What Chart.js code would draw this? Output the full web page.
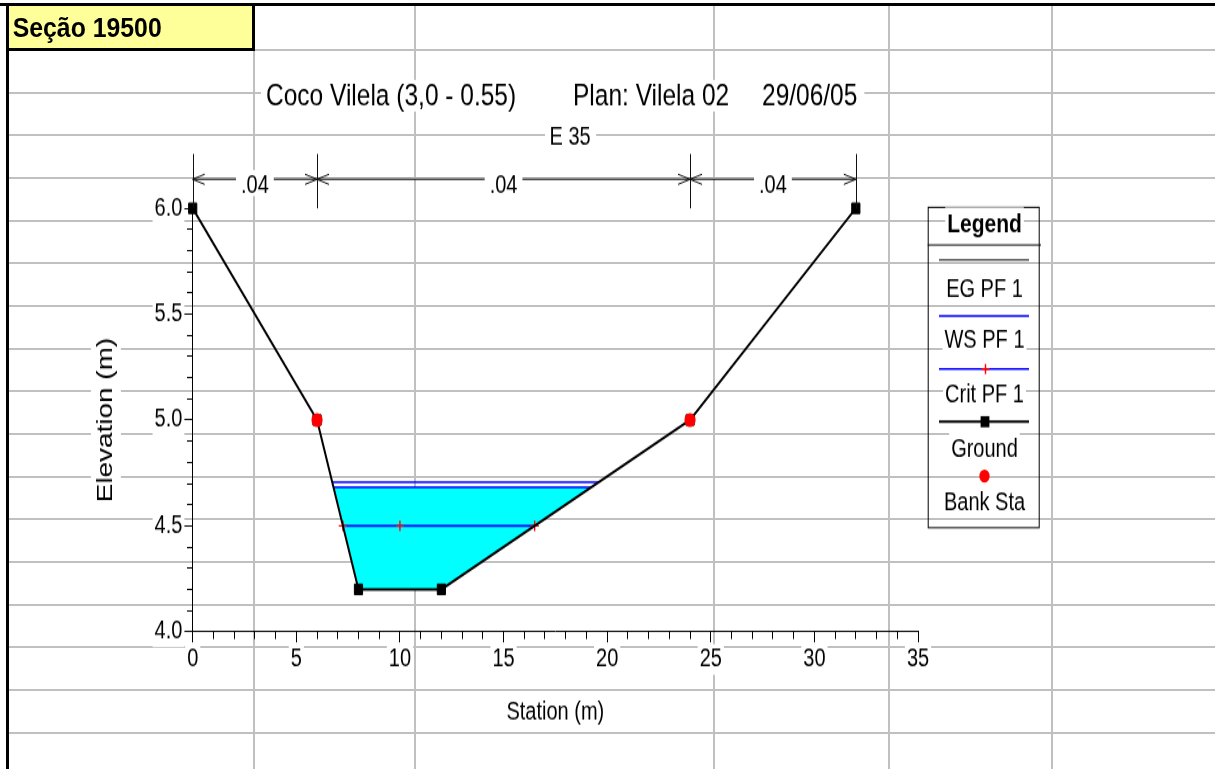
<!DOCTYPE html>
<html>
<head>
<meta charset="utf-8">
<title>Seção 19500</title>
<script src="https://cdn.jsdelivr.net/npm/chart.js@4.4.1/dist/chart.umd.min.js"></script>
<style>
  html, body { margin:0; padding:0; width:1215px; height:769px; overflow:hidden; background:#fff; }
  #sheet { position:absolute; left:0; top:0; }
  #chart { position:absolute; left:0; top:0; transform-origin:0 0; transform:scaleY(1.268977); }
</style>
</head>
<body>
<canvas id="sheet" width="1215" height="769"></canvas>
<canvas id="chart" width="1215" height="606"></canvas>
<script>
// ---------------- data ----------------
const sheetTitle = 'Seção 19500';
const titleParts = ['Coco Vilela (3,0 - 0.55)', 'Plan: Vilela 02', '29/06/05'];
const subTitle = 'E 35';
const xTitle = 'Station (m)';
const yTitle = 'Elevation (m)';
const legendTitle = 'Legend';
const seriesNames = ['EG PF 1', 'WS PF 1', 'Crit PF 1', 'Ground', 'Bank Sta'];

const groundX = [0, 6, 8, 12, 24, 32];
const groundY = [6.0, 5.0, 4.2, 4.2, 5.0, 6.0];
const bankX = [6, 24];
const bankY = [5.0, 5.0];
const egX = [6.74, 19.59];
const egY = [4.706, 4.706];
const wsX = [6.80, 19.23];
const wsY = [4.682, 4.682];
const critX = [7.25, 10, 16.5];
const critY = [4.50, 4.50, 4.50];
const waterX = [6.80, 8, 12, 19.23];
const waterY = [4.682, 4.2, 4.2, 4.682];

const nStations = [0, 6, 24, 32];
const nValues = ['.04', '.04', '.04'];

const xTickValues = [0, 5, 10, 15, 20, 25, 30, 35];
const xTickLabels = ['0', '5', '10', '15', '20', '25', '30', '35'];
const yTickValues = [4.0, 4.5, 5.0, 5.5, 6.0];
const yTickLabels = ['4.0', '4.5', '5.0', '5.5', '6.0'];

// ---------------- styling ----------------
const FF = "'Liberation Sans', Arial, Helvetica, sans-serif";
const K = 769 / 606;            // vertical stretch of the pasted picture
const cy = y => y / K;          // page y -> chart canvas y
const BLUE = '#0000FF', RED = '#FF0000', CYAN = '#00FFFF';
const Y_TITLE_SIZE = 22, Y_TITLE_PAD = 20;

// ---------------- spreadsheet background ----------------
(function drawSheet() {
  const c = document.getElementById('sheet').getContext('2d');
  c.fillStyle = '#fff'; c.fillRect(0, 0, 1215, 769);
  c.fillStyle = '#C0C0C0';
  for (let k = 1; 50 + k * 42.667 < 770; k++) {
    const y = Math.round(50 + k * 42.667) - 1;
    c.fillRect(9, y, 1215, 2);
  }
  c.fillRect(255, 49, 1215, 2);
  [415, 714, 889, 1052].forEach(x => c.fillRect(x - 1, 6, 2, 769));
  c.fillRect(253, 50, 2, 769);
  c.fillStyle = '#FFFF99'; c.fillRect(9, 6, 243, 42);
  c.fillStyle = '#000';
  c.fillRect(0, 3, 1215, 3);
  c.fillRect(6, 3, 3, 769);
  c.fillRect(252, 3, 3, 48);
  c.fillRect(6, 48, 249, 3);
  c.font = `bold 28px ${FF}`;
  c.textBaseline = 'alphabetic';
  c.fillText(sheetTitle, 12.7, 36.5, 149);
})();

// ---------------- chart ----------------
Chart.defaults.font.family = FF;
Chart.defaults.color = '#000';

const pts = (xs, ys) => xs.map((x, i) => ({ x, y: ys[i] }));

function textWithBackdrop(ctx, text, x, base, font) {
  ctx.font = font;
  const w = ctx.measureText(text).width;
  ctx.fillStyle = '#fff';
  ctx.fillRect(x - w / 2 - 2, base - 20, w + 4, 25);
  ctx.fillStyle = '#000';
  ctx.textAlign = 'center';
  ctx.textBaseline = 'alphabetic';
  ctx.fillText(text, x, base);
}

const decor = {
  id: 'decor',
  beforeDraw(chart) {
    const ctx = chart.ctx, ys = chart.scales.y;
    ctx.save();
    ctx.font = `${Y_TITLE_SIZE}px ${FF}`;
    const len = ctx.measureText(yTitle).width;
    const cx = ys.left + Y_TITLE_SIZE * 1.2 / 2 + Y_TITLE_PAD;
    const cyc = (ys.top + ys.bottom) / 2;
    ctx.fillStyle = '#fff';
    ctx.fillRect(cx - 15, cyc - len / 2 - 4, 30, len + 8);
    ctx.restore();
  },
  afterDraw(chart) {
    const ctx = chart.ctx, xs = chart.scales.x, area = chart.chartArea;
    ctx.save();
    // Manning's n dimension markers
    const mTop = cy(154), aY = cy(179.3);
    const nx = nStations.map(s => xs.getPixelForValue(s));
    ctx.strokeStyle = '#111'; ctx.lineWidth = 1;
    ctx.beginPath();
    nx.forEach(x => { const X = Math.round(x) + 0.5; ctx.moveTo(X, mTop); ctx.lineTo(X, area.top); });
    ctx.stroke();
    ctx.font = `20px ${FF}`;
    for (let i = 0; i < nValues.length; i++) {
      const x0 = nx[i], x1 = nx[i + 1], mid = (x0 + x1) / 2;
      const half = ctx.measureText(nValues[i]).width / 2 + 5;
      ctx.fillStyle = '#fff';
      ctx.fillRect(mid - half, cy(170), 2 * half, cy(196) - cy(170));
      ctx.strokeStyle = '#111';
      ctx.beginPath();
      ctx.moveTo(x0, aY); ctx.lineTo(mid - half, aY);
      ctx.moveTo(mid + half, aY); ctx.lineTo(x1, aY);
      ctx.moveTo(x0 + 12, aY - 4); ctx.lineTo(x0, aY); ctx.lineTo(x0 + 12, aY + 4);
      ctx.moveTo(x1 - 12, aY - 4); ctx.lineTo(x1, aY); ctx.lineTo(x1 - 12, aY + 4);
      ctx.stroke();
      ctx.fillStyle = '#000'; ctx.textAlign = 'center'; ctx.textBaseline = 'alphabetic';
      ctx.fillText(nValues[i], mid, cy(193));
    }
    // title line
    ctx.font = `24.5px ${FF}`;
    ctx.textAlign = 'left';
    const tx = [266, 573, 762];
    const endX = tx[2] + ctx.measureText(titleParts[2]).width;
    ctx.fillStyle = '#fff';
    ctx.fillRect(tx[0] - 5, cy(80), endX - tx[0] + 12, cy(111.5) - cy(80));
    ctx.fillStyle = '#000';
    titleParts.forEach((s, i) => ctx.fillText(s, tx[i], cy(105.6)));
    // sub title
    ctx.font = `20px ${FF}`;
    const ew = ctx.measureText(subTitle).width;
    ctx.fillStyle = '#fff';
    ctx.fillRect(545, cy(124), ew + 10, cy(148) - cy(124));
    ctx.fillStyle = '#000';
    ctx.fillText(subTitle, 549.5, cy(145));

    // legend
    const LX0 = 927.7, LX1 = 1038.7, LC = 984.5, SX0 = 939, SX1 = 1029;
    ctx.strokeStyle = '#000'; ctx.lineWidth = 1;
    ctx.strokeRect(LX0 + 0.5, cy(207.3), LX1 - LX0, cy(527.7) - cy(207.3));
    textWithBackdrop(ctx, legendTitle, LC, cy(232.7), `bold 21px ${FF}`);
    ctx.beginPath(); ctx.moveTo(LX0, cy(245)); ctx.lineTo(1041, cy(245)); ctx.stroke();
    const symY = [260, 316, 369, 421.7, 476].map(cy);
    const txtY = [296.7, 348, 402, 456.7, 510].map(cy);
    const hline = (y, color, w) => {
      ctx.strokeStyle = color; ctx.lineWidth = w;
      ctx.beginPath(); ctx.moveTo(SX0, y); ctx.lineTo(SX1, y); ctx.stroke();
    };
    hline(symY[0], '#000', 1);
    hline(symY[1], BLUE, 1.6);
    hline(symY[2], BLUE, 1.6);
    ctx.strokeStyle = RED; ctx.lineWidth = 1.4;
    ctx.beginPath();
    ctx.moveTo(LC + 1 - 4, symY[2]); ctx.lineTo(LC + 1 + 4, symY[2]);
    ctx.moveTo(LC + 1, symY[2] - 4); ctx.lineTo(LC + 1, symY[2] + 4);
    ctx.stroke();
    hline(symY[3], '#000', 2);
    ctx.fillStyle = '#000'; ctx.fillRect(LC + 0.5 - 4.4, symY[3] - 4.4, 8.8, 8.8);
    ctx.fillStyle = RED; ctx.beginPath(); ctx.arc(LC, symY[4], 5.2, 0, Math.PI * 2); ctx.fill();
    seriesNames.forEach((s, i) => textWithBackdrop(ctx, s, LC, txtY[i], `20px ${FF}`));
    ctx.restore();
  }
};

const datasets = [
  { label: seriesNames[4], data: pts(bankX, bankY), showLine: false, pointStyle: 'circle',
    pointRadius: 5.6, pointBackgroundColor: RED, pointBorderColor: RED, pointBorderWidth: 0, clip: false },
  { label: seriesNames[3], data: pts(groundX, groundY), showLine: true, borderColor: '#000', borderWidth: 2,
    pointStyle: 'rect', pointRadius: 5.8, pointBackgroundColor: '#000', pointBorderColor: '#000',
    pointBorderWidth: 1, clip: false },
  { label: seriesNames[2], data: pts(critX, critY), showLine: true, borderColor: BLUE, borderWidth: 1.6,
    pointStyle: 'cross', pointRadius: 4.2, pointBorderColor: RED, pointBackgroundColor: RED,
    pointBorderWidth: 1.4, clip: false },
  { label: seriesNames[1], data: pts(wsX, wsY), showLine: true, borderColor: BLUE, borderWidth: 1.5,
    pointRadius: 0, clip: false },
  { label: seriesNames[0], data: pts(egX, egY), showLine: true, borderColor: BLUE, borderWidth: 1.5,
    pointRadius: 0, clip: false },
  { label: seriesNames[1] + ' area', data: pts(waterX, waterY), showLine: true, borderWidth: 0,
    borderColor: 'rgba(0,0,0,0)', backgroundColor: CYAN, fill: 'shape', pointRadius: 0, clip: false }
];

new Chart(document.getElementById('chart'), {
  type: 'scatter',
  data: { datasets },
  plugins: [decor],
  options: {
    responsive: false,
    animation: false,
    events: [],
    layout: { padding: { left: 72.7, right: 297, top: 164.15, bottom: 28.2 } },
    plugins: { legend: { display: false }, tooltip: { enabled: false }, title: { display: false } },
    scales: {
      x: {
        type: 'linear', position: 'bottom', min: 0, max: 35,
        afterBuildTicks: s => { s.ticks = xTickValues.map(v => ({ value: v })); },
        afterFit: s => { s.height = 80; },
        ticks: {
          callback: (v, i) => xTickLabels[i], autoSkip: false, maxRotation: 0, minRotation: 0,
          padding: 1.5, font: { size: 20 }, color: '#000',
          showLabelBackdrop: true, backdropColor: '#fff', backdropPadding: { left: 2, right: 2, top: 0, bottom: 0 }
        },
        grid: { drawOnChartArea: false, tickLength: 8.4, color: '#000', tickWidth: 1 },
        border: { display: true, color: '#000', width: 1 },
        title: { display: true, text: xTitle, font: { size: 20 }, color: '#000', padding: { top: 0, bottom: 4.3 } }
      },
      xMinor: {
        type: 'linear', position: 'bottom', weight: -1, min: 0, max: 35,
        afterFit: s => { s.height = 0; },
        ticks: { display: false, stepSize: 1 },
        grid: { drawOnChartArea: false, tickLength: 5.8, color: '#000', tickWidth: 1 },
        border: { display: false }
      },
      y: {
        type: 'linear', position: 'left', min: 4, max: 6,
        afterBuildTicks: s => { s.ticks = yTickValues.map(v => ({ value: v })); },
        afterFit: s => { s.width = 120; },
        ticks: {
          callback: (v, i) => yTickLabels[i], autoSkip: false,
          padding: 1, font: { size: 20 }, color: '#000',
          showLabelBackdrop: true, backdropColor: '#fff', backdropPadding: { left: 2, right: 2, top: 0, bottom: 0 }
        },
        grid: { drawOnChartArea: false, tickLength: 9.3, color: '#000', tickWidth: 1 },
        border: { display: true, color: '#000', width: 1 },
        title: { display: true, text: yTitle, font: { size: Y_TITLE_SIZE }, color: '#000',
                 padding: { top: Y_TITLE_PAD, bottom: 0 } }
      },
      yMinor: {
        type: 'linear', position: 'left', weight: -1, min: 4, max: 6,
        afterFit: s => { s.width = 0; },
        ticks: { display: false, stepSize: 0.1 },
        grid: { drawOnChartArea: false, tickLength: 5.7, color: '#000', tickWidth: 1 },
        border: { display: false }
      }
    }
  }
});
</script>
</body>
</html>
